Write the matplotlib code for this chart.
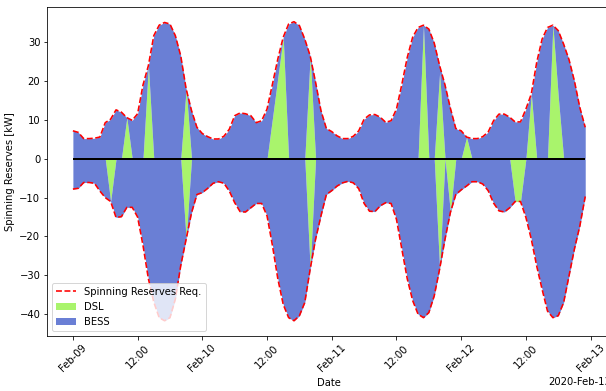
import matplotlib
matplotlib.use('Agg')
import matplotlib.pyplot as plt
import matplotlib.dates as mdates
import numpy as np
import pandas as pd

# hourly time axis, 4 days
time = pd.date_range('2020-02-09 00:00', periods=96, freq='h')

# spinning reserve requirement, up (positive) and down (negative) [kW]
req_up = [7.2, 6.8, 5.2, 5.2, 5.3, 5.6, 9.3, 10.2, 12.6, 12.0, 10.6, 9.9,
          11.6, 19.0, 24.0, 31.7, 34.4, 35.1, 34.7, 31.7, 26.5, 18.0, 12.4, 8.1,
          6.5, 5.7, 5.1, 5.1, 5.8, 7.6, 11.1, 11.8, 11.6, 11.1, 9.3, 9.8,
          12.8, 19.2, 25.7, 31.3, 34.7, 35.3, 34.3, 30.8, 26.5, 19.7, 12.4, 7.8,
          7.0, 5.9, 5.2, 5.2, 5.8, 7.2, 10.2, 11.3, 11.4, 10.7, 9.4, 9.8,
          12.8, 19.2, 26.1, 31.3, 33.8, 34.4, 33.4, 29.8, 24.0, 19.0, 13.0, 7.8,
          7.2, 5.6, 5.2, 5.2, 5.7, 6.9, 9.8, 11.5, 11.5, 10.7, 9.5, 9.5,
          12.8, 16.7, 24.8, 30.8, 33.8, 34.4, 33.0, 29.5, 25.5, 20.0, 13.2, 8.1]

req_dn = [-7.8, -7.6, -6.1, -6.1, -6.3, -8.3, -10.0, -11.0, -15.1, -14.9, -12.5, -12.5,
          -15.0, -22.3, -30.9, -36.9, -40.9, -41.7, -40.9, -36.1, -27.5, -20.7, -13.9, -9.2,
          -8.7, -7.6, -6.3, -5.9, -6.3, -8.3, -11.3, -13.6, -13.7, -12.6, -11.5, -11.5,
          -14.7, -22.3, -30.9, -37.5, -40.9, -41.7, -40.4, -37.0, -28.4, -20.7, -14.7, -9.2,
          -8.2, -7.0, -6.2, -5.8, -6.2, -7.7, -11.5, -13.5, -13.6, -12.1, -11.3, -11.5,
          -15.6, -23.3, -30.9, -36.5, -40.0, -40.9, -39.6, -35.3, -28.4, -20.7, -13.8, -9.2,
          -8.0, -7.0, -5.9, -5.9, -6.5, -8.2, -11.4, -13.4, -13.7, -12.6, -11.0, -11.0,
          -15.1, -20.7, -27.6, -33.6, -39.2, -40.9, -40.4, -37.0, -30.1, -23.2, -17.3, -9.7]

# diesel share of the reserve, rest is covered by the battery
dsl_up = [0, 0, 0, 0, 0, 0, 0, 0, 0, 0, 10.6, 0,
          0, 0, 24.0, 0, 0, 0, 0, 0, 0, 18.0, 0, 0,
          0, 0, 0, 0, 0, 0, 0, 0, 0, 0, 0, 0,
          0, 10.4, 20.9, 31.3, 0, 0, 0, 0, 26.5, 0, 0, 0,
          0, 0, 0, 0, 0, 0, 0, 0, 0, 0, 0, 0,
          0, 0, 0, 0, 0, 34.4, 0, 0, 22.2, 0, 0, 0,
          0, 5.6, 0, 0, 0, 0, 0, 0, 0, 0, 0, 0,
          0, 16.7, 0, 0, 0, 34.4, 16.0, 0, 0, 0, 0, 0]

dsl_dn = [0, 0, 0, 0, 0, 0, 0, -11.0, 0, 0, 0, 0,
          0, 0, 0, 0, 0, 0, 0, 0, 0, -20.7, 0, 0,
          0, 0, 0, 0, 0, 0, 0, 0, 0, 0, 0, 0,
          0, 0, 0, 0, 0, 0, 0, 0, -28.4, 0, 0, 0,
          0, 0, 0, 0, 0, 0, 0, 0, 0, 0, 0, 0,
          0, 0, 0, 0, 0, 0, 0, 0, -28.4, 0, -13.8, 0,
          0, 0, 0, 0, 0, 0, 0, 0, 0, 0, -11.0, -11.0,
          0, 0, 0, 0, 0, 0, 0, 0, 0, 0, 0, 0]

green = '#a9f46c'
blue = '#6a7fd5'

fig = plt.figure(figsize=(606/72, 391/72), dpi=72)
ax = fig.add_axes([0.078, 0.1414, 0.930, 0.8414])

h_dsl = ax.fill_between(time, 0, dsl_up, color=green, lw=0, label='DSL')
h_bess = ax.fill_between(time, dsl_up, req_up, color=blue, lw=0, label='BESS')
ax.fill_between(time, 0, dsl_dn, color=green, lw=0)
ax.fill_between(time, dsl_dn, req_dn, color=blue, lw=0)
h_req, = ax.plot(time, req_up, 'r--', lw=1.6, label='Spinning Reserves Req.')
ax.plot(time, req_dn, 'r--', lw=1.6)
ax.hlines(0, time[0], time[-1], color='k', lw=2)

locator = mdates.AutoDateLocator()
ax.xaxis.set_major_locator(locator)
ax.xaxis.set_major_formatter(mdates.ConciseDateFormatter(locator))
ax.tick_params(axis='x', rotation=45)

ax.set_xlabel('Date')
ax.set_ylabel('Spinning Reserves [kW]')
ax.legend(handles=[h_req, h_dsl, h_bess], loc='lower left')

fig.savefig('out.png', dpi=72)
